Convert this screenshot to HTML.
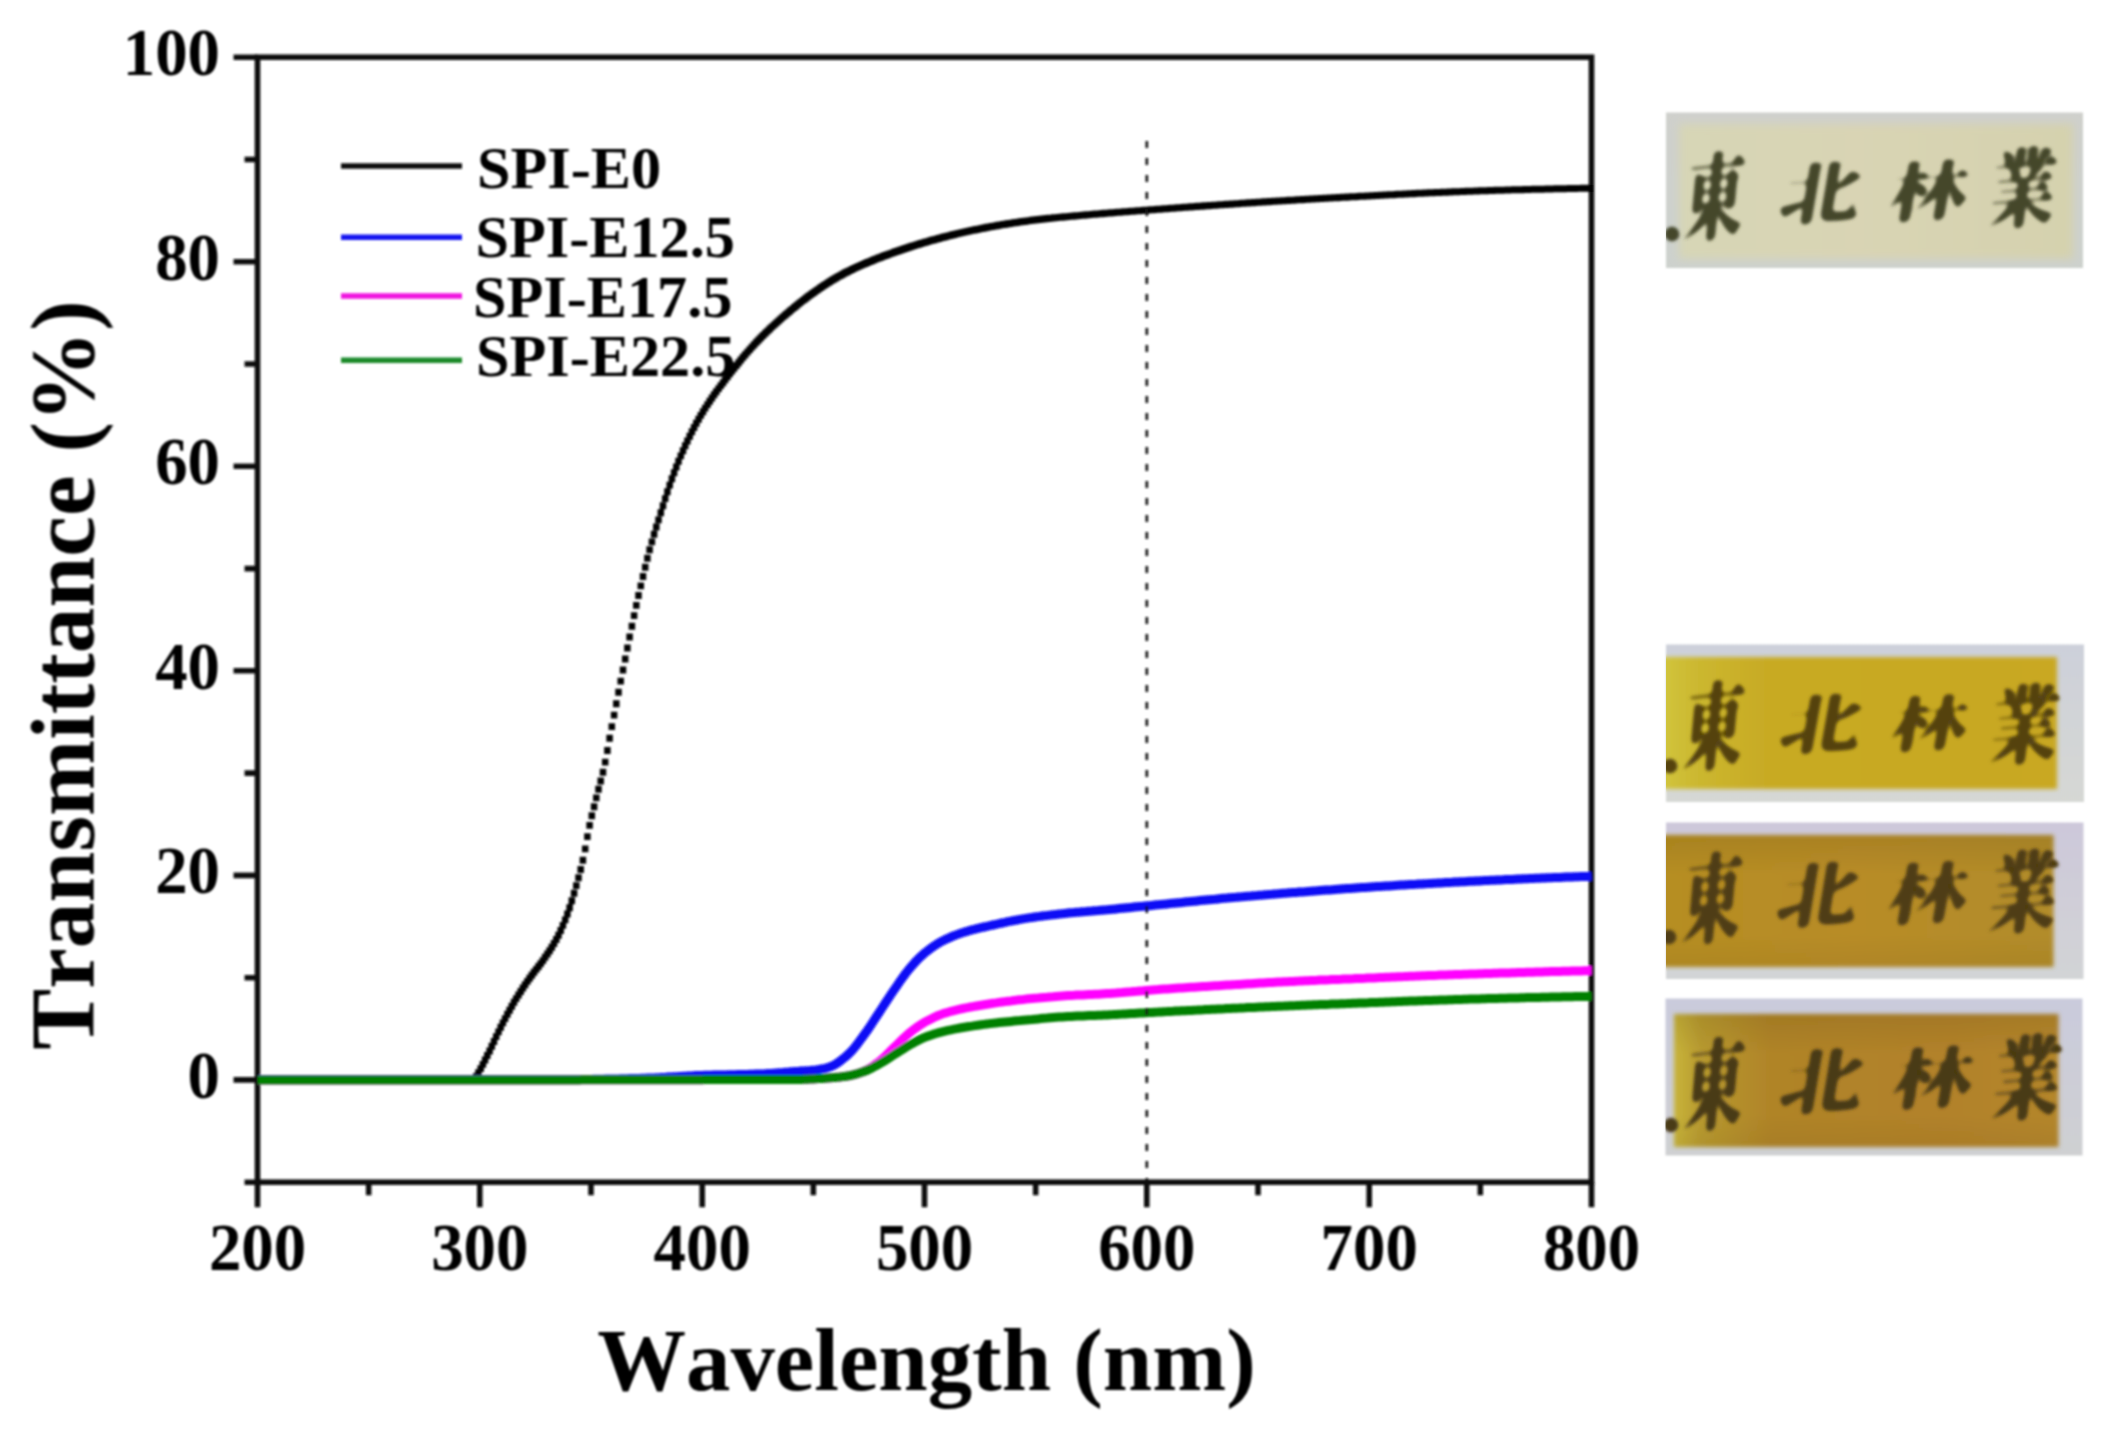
<!DOCTYPE html>
<html><head><meta charset="utf-8"><title>UV-vis transmittance</title>
<style>html,body{margin:0;padding:0;background:#fff}body{width:2102px;height:1430px;overflow:hidden}svg{display:block}</style></head>
<body>
<svg width="2102" height="1430" viewBox="0 0 2102 1430">
<defs>
<filter id="b1" x="-5%" y="-5%" width="110%" height="110%"><feGaussianBlur stdDeviation="0.9"/></filter>
<filter id="b2" x="-5%" y="-5%" width="110%" height="110%"><feGaussianBlur stdDeviation="1.3"/></filter>
<filter id="b3" x="-5%" y="-10%" width="110%" height="120%"><feGaussianBlur stdDeviation="2.2"/></filter>
<filter id="b5" x="-5%" y="-10%" width="110%" height="120%"><feGaussianBlur stdDeviation="4.5"/></filter>
<filter id="b4" x="-5%" y="-20%" width="110%" height="140%"><feGaussianBlur stdDeviation="2.6"/><feComponentTransfer><feFuncA type="linear" slope="3.2" intercept="-.75"/></feComponentTransfer><feGaussianBlur stdDeviation="1.8"/></filter>
<linearGradient id="g1" x1="0" x2="1" y1="0" y2="0"><stop offset="0" stop-color="#d7d6b6"/><stop offset=".45" stop-color="#d9d4b4"/><stop offset="1" stop-color="#d5d2ae"/></linearGradient>
<linearGradient id="g2" x1="0" x2="1" y1="0" y2="0"><stop offset="0" stop-color="#d2c840"/><stop offset=".1" stop-color="#ccb830"/><stop offset=".28" stop-color="#c8aa24"/><stop offset="1" stop-color="#c9a822"/></linearGradient>
<linearGradient id="g3" x1="0" x2="1" y1="0" y2="0"><stop offset="0" stop-color="#b68e22"/><stop offset=".5" stop-color="#b88c28"/><stop offset="1" stop-color="#b28c2a"/></linearGradient>
<linearGradient id="g4" x1="0" x2="1" y1="0" y2="0"><stop offset="0" stop-color="#c8b43a"/><stop offset=".07" stop-color="#b89a30"/><stop offset=".25" stop-color="#b08428"/><stop offset=".7" stop-color="#b2822a"/><stop offset="1" stop-color="#b4862c"/></linearGradient>
<clipPath id="cp"><rect x="257.5" y="57.2" width="1337.0" height="1125.0"/></clipPath>
<linearGradient id="vg" x1="0" x2="0" y1="0" y2="1"><stop offset="0" stop-color="#3c2c00" stop-opacity=".12"/><stop offset=".3" stop-color="#3c2c00" stop-opacity="0"/><stop offset=".75" stop-color="#3c2c00" stop-opacity="0"/><stop offset="1" stop-color="#3c2c00" stop-opacity=".07"/></linearGradient>
</defs>
<rect width="100%" height="100%" fill="#fff"/>
<g filter="url(#b1)">
<g stroke="#111" stroke-width="5.6" fill="none" stroke-linecap="butt">
<rect x="257.5" y="57.2" width="1334.0" height="1125.0"/>
<path d="M257.5 1079.9h-24M257.5 875.4h-24M257.5 670.8h-24M257.5 466.3h-24M257.5 261.7h-24M257.5 57.2h-24M257.5 1182.2h-13M257.5 977.7h-13M257.5 773.1h-13M257.5 568.6h-13M257.5 364.0h-13M257.5 159.5h-13M257.5 1182.2v25M479.8 1182.2v25M702.2 1182.2v25M924.5 1182.2v25M1146.8 1182.2v25M1369.2 1182.2v25M1591.5 1182.2v25M368.7 1182.2v13M591.0 1182.2v13M813.3 1182.2v13M1035.7 1182.2v13M1258.0 1182.2v13M1480.3 1182.2v13"/>
</g>
<g clip-path="url(#cp)" fill="none" stroke-linejoin="round">
<path d="M474.0 1079.8v.4M476.2 1076.3v.4M478.4 1072.5v.4M480.7 1068.4v.4M482.9 1064.2v.4M485.1 1059.8v.4M487.3 1055.3v.4M489.6 1050.8v.4M491.8 1046.1v.4M494.0 1041.3v.4M496.2 1036.4v.4M498.5 1031.7v.4M500.7 1027.1v.4M502.9 1022.7v.4M505.1 1018.4v.4M507.4 1014.1v.4M509.6 1010.0v.4M511.8 1006.0v.4M514.0 1002.1v.4M516.2 998.4v.4M518.5 994.8v.4M520.7 991.3v.4M522.9 987.8v.4M525.1 984.5v.4M527.4 981.2v.4M529.6 978.0v.4M531.8 975.0v.4M534.0 972.1v.4M536.3 969.2v.4M538.5 966.3v.4M540.7 963.4v.4M542.9 960.4v.4M545.1 957.1v.4M547.4 953.8v.4M549.6 950.5v.4M551.8 947.0v.4M554.0 943.3v.4M556.3 939.3v.4M558.5 935.0v.4M560.7 930.3v.4M562.9 925.2v.4M565.2 919.7v.4M567.4 913.8v.4M569.6 907.5v.4M571.8 900.5v.4M574.1 893.1v.4M576.3 885.4v.4M578.5 877.6v.4M580.7 869.3v.4M582.9 860.0v.4M585.2 848.7v.4M587.4 836.4v.4M589.6 825.2v.4M591.8 815.6v.4M594.1 806.5v.4M596.3 797.7v.4M598.5 789.1v.4M600.7 780.8v.4M603.0 772.0v.4M605.2 761.9v.4M607.4 750.3v.4M609.6 738.1v.4M611.8 726.4v.4M614.1 714.9v.4M616.3 703.5v.4M618.5 692.1v.4M620.7 680.9v.4M623.0 669.8v.4M625.2 658.8v.4M627.4 647.8v.4M629.6 636.8v.4M631.9 626.0v.4M634.1 615.4v.4M636.3 605.2v.4M638.5 595.3v.4M640.8 585.7v.4M643.0 576.3v.4M645.2 567.1v.4M647.4 558.1v.4M649.6 549.6v.4M651.9 541.7v.4M654.1 534.1v.4M656.3 526.8v.4M658.5 519.7v.4M660.8 512.6v.4M663.0 505.5v.4M665.2 498.4v.4M667.4 491.5v.4M669.7 484.9v.4M671.9 478.6v.4M674.1 472.6v.4M676.3 466.8v.4M678.5 461.1v.4M680.8 455.7v.4M683.0 450.5v.4M685.2 445.5v.4M687.4 440.8v.4M689.7 436.1v.4M691.9 431.6v.4M694.1 427.3v.4M696.3 423.1v.4M698.6 419.1v.4M700.8 415.2v.4M703.0 411.5v.4M705.2 407.9v.4M707.5 404.4v.4M709.7 401.0v.4M711.9 397.8v.4M714.1 394.6v.4M716.3 391.5v.4M718.6 388.4v.4M720.8 385.4v.4M723.0 382.5v.4M725.2 379.5v.4M727.5 376.6v.4M729.7 373.7v.4M731.9 370.9v.4M734.1 368.0v.4M736.4 365.3v.4M738.6 362.5v.4M740.8 359.8v.4M743.0 357.1v.4M745.2 354.5v.4M747.5 351.9v.4M749.7 349.4v.4M751.9 346.9v.4M754.1 344.5v.4M756.4 342.1v.4M758.6 339.8v.4M760.8 337.5v.4M763.0 335.3v.4M765.3 333.1v.4M767.5 330.9v.4M769.7 328.8v.4M771.9 326.7v.4M774.2 324.7v.4M776.4 322.7v.4M778.6 320.7v.4M780.8 318.7v.4M783.0 316.7v.4M785.3 314.8v.4M787.5 312.9v.4M789.7 311.0v.4M791.9 309.2v.4M794.2 307.3v.4M796.4 305.5v.4M798.6 303.7v.4M800.8 301.9v.4M803.1 300.2v.4M805.3 298.5v.4M807.5 296.8v.4M809.7 295.2v.4M811.9 293.6v.4M814.2 292.0v.4M816.4 290.4v.4M818.6 288.9v.4M820.8 287.3v.4M823.1 285.8v.4M825.3 284.4v.4M827.5 282.9v.4M829.7 281.5v.4M832.0 280.1v.4M834.2 278.8v.4M836.4 277.5v.4M838.6 276.2v.4M840.9 275.0v.4M843.1 273.8v.4M845.3 272.6v.4M847.5 271.5v.4M849.7 270.4v.4M852.0 269.3v.4M854.2 268.2v.4M856.4 267.2v.4M858.6 266.2v.4M860.9 265.2v.4M863.1 264.2v.4M865.3 263.3v.4M867.5 262.3v.4M869.8 261.4v.4M872.0 260.5v.4M874.2 259.6v.4M876.4 258.7v.4M878.6 257.8v.4M880.9 257.0v.4M883.1 256.1v.4M885.3 255.3v.4M887.5 254.5v.4M889.8 253.7v.4M892.0 252.9v.4M894.2 252.1v.4M896.4 251.3v.4M898.7 250.6v.4M900.9 249.8v.4M903.1 249.1v.4M905.3 248.3v.4M907.6 247.6v.4M909.8 246.8v.4M912.0 246.1v.4M914.2 245.4v.4M916.4 244.7v.4M918.7 244.0v.4M920.9 243.3v.4M923.1 242.7v.4M925.3 242.0v.4M927.6 241.4v.4M929.8 240.7v.4M932.0 240.1v.4M934.2 239.5v.4M936.5 238.9v.4M938.7 238.3v.4M940.9 237.7v.4M943.1 237.1v.4M945.3 236.5v.4M947.6 235.9v.4M949.8 235.4v.4M952.0 234.8v.4M954.2 234.3v.4M956.5 233.7v.4M958.7 233.2v.4M960.9 232.7v.4M963.1 232.2v.4M965.4 231.7v.4M967.6 231.2v.4M969.8 230.7v.4M972.0 230.2v.4M974.3 229.8v.4M976.5 229.3v.4M978.7 228.9v.4M980.9 228.4v.4M983.1 228.0v.4M985.4 227.5v.4M987.6 227.1v.4M989.8 226.7v.4M992.0 226.3v.4M994.3 225.9v.4M996.5 225.5v.4M998.7 225.1v.4M1000.9 224.7v.4M1003.2 224.3v.4M1005.4 224.0v.4M1007.6 223.6v.4M1009.8 223.3v.4M1012.0 222.9v.4M1014.3 222.6v.4M1016.5 222.3v.4M1018.7 221.9v.4M1020.9 221.6v.4M1023.2 221.3v.4M1025.4 221.0v.4M1027.6 220.7v.4M1029.8 220.4v.4M1032.1 220.1v.4M1034.3 219.8v.4M1036.5 219.5v.4M1038.7 219.3v.4M1041.0 219.0v.4M1043.2 218.8v.4M1045.4 218.5v.4M1047.6 218.3v.4M1049.8 218.1v.4M1052.1 217.9v.4M1054.3 217.6v.4M1056.5 217.4v.4M1058.7 217.2v.4M1061.0 217.0v.4M1063.2 216.8v.4M1065.4 216.6v.4M1067.6 216.4v.4M1069.9 216.2v.4M1072.1 216.0v.4M1074.3 215.8v.4M1076.5 215.6v.4M1078.7 215.4v.4M1081.0 215.2v.4M1083.2 215.0v.4M1085.4 214.8v.4M1087.6 214.6v.4M1089.9 214.4v.4M1092.1 214.2v.4M1094.3 214.0v.4M1096.5 213.8v.4M1098.8 213.7v.4M1101.0 213.5v.4M1103.2 213.3v.4M1105.4 213.1v.4M1107.7 212.9v.4M1109.9 212.8v.4M1112.1 212.6v.4M1114.3 212.4v.4M1116.5 212.2v.4M1118.8 212.1v.4M1121.0 211.9v.4M1123.2 211.7v.4M1125.4 211.6v.4M1127.7 211.4v.4M1129.9 211.2v.4M1132.1 211.1v.4M1134.3 210.9v.4M1136.6 210.7v.4M1138.8 210.6v.4M1141.0 210.4v.4M1143.2 210.2v.4M1145.4 210.1v.4M1147.7 209.9v.4M1149.9 209.7v.4M1152.1 209.6v.4M1154.3 209.4v.4M1156.6 209.2v.4M1158.8 209.1v.4M1161.0 208.9v.4M1163.2 208.7v.4M1165.5 208.6v.4M1167.7 208.4v.4M1169.9 208.2v.4M1172.1 208.1v.4M1174.4 207.9v.4M1176.6 207.7v.4M1178.8 207.6v.4M1181.0 207.4v.4M1183.2 207.2v.4M1185.5 207.1v.4M1187.7 206.9v.4M1189.9 206.8v.4M1192.1 206.6v.4M1194.4 206.4v.4M1196.6 206.3v.4M1198.8 206.1v.4M1201.0 206.0v.4M1203.3 205.8v.4M1205.5 205.6v.4M1207.7 205.5v.4M1209.9 205.3v.4M1212.1 205.2v.4M1214.4 205.0v.4M1216.6 204.9v.4M1218.8 204.7v.4M1221.0 204.6v.4M1223.3 204.4v.4M1225.5 204.3v.4M1227.7 204.1v.4M1229.9 204.0v.4M1232.2 203.8v.4M1234.4 203.7v.4M1236.6 203.5v.4M1238.8 203.4v.4M1241.1 203.2v.4M1243.3 203.1v.4M1245.5 202.9v.4M1247.7 202.8v.4M1249.9 202.6v.4M1252.2 202.5v.4M1254.4 202.3v.4M1256.6 202.2v.4M1258.8 202.1v.4M1261.1 201.9v.4M1263.3 201.8v.4M1265.5 201.6v.4M1267.7 201.5v.4M1270.0 201.3v.4M1272.2 201.2v.4M1274.4 201.1v.4M1276.6 200.9v.4M1278.8 200.8v.4M1281.1 200.7v.4M1283.3 200.5v.4M1285.5 200.4v.4M1287.7 200.3v.4M1290.0 200.1v.4M1292.2 200.0v.4M1294.4 199.9v.4M1296.6 199.7v.4M1298.9 199.6v.4M1301.1 199.5v.4M1303.3 199.3v.4M1305.5 199.2v.4M1307.8 199.1v.4M1310.0 198.9v.4M1312.2 198.8v.4M1314.4 198.7v.4M1316.6 198.6v.4M1318.9 198.4v.4M1321.1 198.3v.4M1323.3 198.2v.4M1325.5 198.1v.4M1327.8 197.9v.4M1330.0 197.8v.4M1332.2 197.7v.4M1334.4 197.6v.4M1336.7 197.5v.4M1338.9 197.3v.4M1341.1 197.2v.4M1343.3 197.1v.4M1345.5 197.0v.4M1347.8 196.8v.4M1350.0 196.7v.4M1352.2 196.6v.4M1354.4 196.5v.4M1356.7 196.4v.4M1358.9 196.2v.4M1361.1 196.1v.4M1363.3 196.0v.4M1365.6 195.9v.4M1367.8 195.8v.4M1370.0 195.7v.4M1372.2 195.5v.4M1374.5 195.4v.4M1376.7 195.3v.4M1378.9 195.2v.4M1381.1 195.1v.4M1383.3 194.9v.4M1385.6 194.8v.4M1387.8 194.7v.4M1390.0 194.6v.4M1392.2 194.5v.4M1394.5 194.4v.4M1396.7 194.2v.4M1398.9 194.1v.4M1401.1 194.0v.4M1403.4 193.9v.4M1405.6 193.8v.4M1407.8 193.7v.4M1410.0 193.6v.4M1412.2 193.5v.4M1414.5 193.3v.4M1416.7 193.2v.4M1418.9 193.1v.4M1421.1 193.0v.4M1423.4 192.9v.4M1425.6 192.8v.4M1427.8 192.7v.4M1430.0 192.6v.4M1432.3 192.5v.4M1434.5 192.4v.4M1436.7 192.3v.4M1438.9 192.3v.4M1441.2 192.2v.4M1443.4 192.1v.4M1445.6 192.0v.4M1447.8 191.9v.4M1450.0 191.8v.4M1452.3 191.7v.4M1454.5 191.6v.4M1456.7 191.5v.4M1458.9 191.4v.4M1461.2 191.4v.4M1463.4 191.3v.4M1465.6 191.2v.4M1467.8 191.1v.4M1470.1 191.0v.4M1472.3 190.9v.4M1474.5 190.9v.4M1476.7 190.8v.4M1478.9 190.7v.4M1481.2 190.6v.4M1483.4 190.5v.4M1485.6 190.5v.4M1487.8 190.4v.4M1490.1 190.3v.4M1492.3 190.3v.4M1494.5 190.2v.4M1496.7 190.1v.4M1499.0 190.1v.4M1501.2 190.0v.4M1503.4 189.9v.4M1505.6 189.9v.4M1507.9 189.8v.4M1510.1 189.7v.4M1512.3 189.7v.4M1514.5 189.6v.4M1516.7 189.6v.4M1519.0 189.5v.4M1521.2 189.5v.4M1523.4 189.4v.4M1525.6 189.3v.4M1527.9 189.3v.4M1530.1 189.2v.4M1532.3 189.2v.4M1534.5 189.1v.4M1536.8 189.1v.4M1539.0 189.0v.4M1541.2 189.0v.4M1543.4 188.9v.4M1545.6 188.9v.4M1547.9 188.8v.4M1550.1 188.8v.4M1552.3 188.7v.4M1554.5 188.7v.4M1556.8 188.6v.4M1559.0 188.6v.4M1561.2 188.5v.4M1563.4 188.5v.4M1565.7 188.4v.4M1567.9 188.4v.4M1570.1 188.3v.4M1572.3 188.3v.4M1574.6 188.3v.4M1576.8 188.2v.4M1579.0 188.2v.4M1581.2 188.2v.4M1583.4 188.1v.4M1585.7 188.1v.4M1587.9 188.1v.4M1590.1 188.0v.4" stroke="#000" stroke-width="6.5" stroke-linecap="square"/>
<path d="M258.0 1079.6 L261.0 1079.6 L264.0 1079.6 L267.0 1079.6 L270.0 1079.6 L273.0 1079.6 L276.0 1079.6 L279.0 1079.6 L282.0 1079.6 L285.0 1079.6 L288.0 1079.6 L291.0 1079.6 L294.0 1079.6 L297.0 1079.6 L300.0 1079.6 L303.0 1079.6 L306.0 1079.6 L309.0 1079.6 L312.0 1079.6 L315.0 1079.6 L318.0 1079.6 L321.0 1079.6 L324.0 1079.6 L327.0 1079.6 L330.0 1079.6 L333.0 1079.6 L336.0 1079.6 L339.0 1079.6 L342.0 1079.6 L345.0 1079.6 L348.0 1079.6 L351.0 1079.6 L354.0 1079.6 L357.0 1079.6 L360.0 1079.6 L363.0 1079.6 L366.0 1079.6 L369.0 1079.6 L372.0 1079.6 L375.0 1079.6 L378.0 1079.6 L381.0 1079.6 L384.0 1079.6 L387.0 1079.6 L390.0 1079.6 L393.0 1079.6 L396.0 1079.6 L399.0 1079.6 L402.0 1079.6 L405.0 1079.6 L408.0 1079.6 L411.0 1079.6 L414.0 1079.6 L417.0 1079.6 L420.0 1079.6 L423.0 1079.6 L426.0 1079.6 L429.0 1079.6 L432.0 1079.6 L435.0 1079.6 L438.0 1079.6 L441.0 1079.6 L444.0 1079.6 L447.0 1079.6 L450.0 1079.6 L453.0 1079.6 L456.0 1079.6 L459.0 1079.6 L462.0 1079.6 L465.0 1079.6 L468.0 1079.6 L471.0 1079.6 L474.0 1079.6 L477.0 1079.6 L480.0 1079.6 L483.0 1079.6 L486.0 1079.6 L489.0 1079.6 L492.0 1079.6 L495.0 1079.6 L498.0 1079.6 L501.0 1079.6 L504.0 1079.6 L507.0 1079.6 L510.0 1079.6 L513.0 1079.6 L516.0 1079.6 L519.0 1079.6 L522.0 1079.6 L525.0 1079.6 L528.0 1079.6 L531.0 1079.6 L534.0 1079.6 L537.0 1079.6 L540.0 1079.6 L543.0 1079.6 L546.0 1079.6 L549.0 1079.6 L552.0 1079.6 L555.0 1079.6 L558.0 1079.6 L561.0 1079.6 L564.0 1079.6 L567.0 1079.6 L570.0 1079.6 L573.0 1079.6 L576.0 1079.5 L579.0 1079.5 L582.0 1079.5 L585.0 1079.4 L588.0 1079.4 L591.0 1079.4 L594.0 1079.3 L597.0 1079.3 L600.0 1079.2 L603.0 1079.2 L606.0 1079.1 L609.0 1079.1 L612.0 1079.0 L615.0 1079.0 L618.0 1078.9 L621.0 1078.8 L624.0 1078.8 L627.0 1078.7 L630.0 1078.6 L633.0 1078.6 L636.0 1078.5 L639.0 1078.4 L642.0 1078.3 L645.0 1078.3 L648.0 1078.1 L651.0 1078.0 L654.0 1077.9 L657.0 1077.7 L660.0 1077.6 L663.0 1077.4 L666.0 1077.3 L669.0 1077.1 L672.0 1076.9 L675.0 1076.7 L678.0 1076.6 L681.0 1076.4 L684.0 1076.2 L687.0 1076.1 L690.0 1075.9 L693.0 1075.8 L696.0 1075.6 L699.0 1075.5 L702.0 1075.4 L705.0 1075.3 L708.0 1075.3 L711.0 1075.2 L714.0 1075.1 L717.0 1075.1 L720.0 1075.0 L723.0 1074.9 L726.0 1074.9 L729.0 1074.8 L732.0 1074.7 L735.0 1074.7 L738.0 1074.6 L741.0 1074.6 L744.0 1074.5 L747.0 1074.4 L750.0 1074.3 L753.0 1074.2 L756.0 1074.1 L759.0 1074.0 L762.0 1073.9 L765.0 1073.8 L768.0 1073.6 L771.0 1073.4 L774.0 1073.2 L777.0 1073.0 L780.0 1072.8 L783.0 1072.6 L786.0 1072.3 L789.0 1072.1 L792.0 1071.8 L795.0 1071.6 L798.0 1071.4 L801.0 1071.1 L804.0 1070.9 L807.0 1070.7 L810.0 1070.5 L813.0 1070.2 L816.0 1069.9 L819.0 1069.5 L822.0 1068.9 L825.0 1068.3 L828.0 1067.5 L831.0 1066.5 L834.0 1065.1 L837.0 1063.3 L840.0 1061.2 L843.0 1058.8 L846.0 1056.4 L849.0 1053.7 L852.0 1050.6 L855.0 1047.1 L858.0 1043.2 L861.0 1039.1 L864.0 1035.0 L867.0 1030.9 L870.0 1026.5 L873.0 1021.9 L876.0 1017.3 L879.0 1012.7 L882.0 1008.1 L885.0 1003.5 L888.0 999.0 L891.0 994.4 L894.0 990.0 L897.0 985.7 L900.0 981.3 L903.0 977.1 L906.0 973.0 L909.0 969.2 L912.0 965.7 L915.0 962.4 L918.0 959.2 L921.0 956.3 L924.0 953.6 L927.0 951.2 L930.0 948.9 L933.0 946.8 L936.0 944.8 L939.0 942.9 L942.0 941.2 L945.0 939.7 L948.0 938.3 L951.0 937.0 L954.0 935.7 L957.0 934.6 L960.0 933.5 L963.0 932.5 L966.0 931.6 L969.0 930.7 L972.0 929.9 L975.0 929.2 L978.0 928.4 L981.0 927.7 L984.0 927.0 L987.0 926.3 L990.0 925.7 L993.0 925.0 L996.0 924.3 L999.0 923.7 L1002.0 923.0 L1005.0 922.4 L1008.0 921.7 L1011.0 921.1 L1014.0 920.5 L1017.0 920.0 L1020.0 919.4 L1023.0 918.9 L1026.0 918.4 L1029.0 917.9 L1032.0 917.5 L1035.0 917.0 L1038.0 916.6 L1041.0 916.2 L1044.0 915.8 L1047.0 915.5 L1050.0 915.1 L1053.0 914.7 L1056.0 914.4 L1059.0 914.1 L1062.0 913.8 L1065.0 913.4 L1068.0 913.1 L1071.0 912.8 L1074.0 912.6 L1077.0 912.3 L1080.0 912.1 L1083.0 911.8 L1086.0 911.6 L1089.0 911.3 L1092.0 911.1 L1095.0 910.8 L1098.0 910.6 L1101.0 910.3 L1104.0 910.0 L1107.0 909.8 L1110.0 909.5 L1113.0 909.2 L1116.0 908.9 L1119.0 908.6 L1122.0 908.3 L1125.0 908.0 L1128.0 907.7 L1131.0 907.4 L1134.0 907.1 L1137.0 906.8 L1140.0 906.5 L1143.0 906.3 L1146.0 906.0 L1149.0 905.7 L1152.0 905.4 L1155.0 905.1 L1158.0 904.8 L1161.0 904.5 L1164.0 904.2 L1167.0 903.9 L1170.0 903.6 L1173.0 903.3 L1176.0 903.0 L1179.0 902.7 L1182.0 902.4 L1185.0 902.1 L1188.0 901.8 L1191.0 901.5 L1194.0 901.2 L1197.0 900.9 L1200.0 900.6 L1203.0 900.3 L1206.0 900.0 L1209.0 899.7 L1212.0 899.4 L1215.0 899.2 L1218.0 898.9 L1221.0 898.6 L1224.0 898.3 L1227.0 898.1 L1230.0 897.8 L1233.0 897.5 L1236.0 897.3 L1239.0 897.0 L1242.0 896.8 L1245.0 896.5 L1248.0 896.2 L1251.0 896.0 L1254.0 895.7 L1257.0 895.5 L1260.0 895.2 L1263.0 895.0 L1266.0 894.7 L1269.0 894.5 L1272.0 894.3 L1275.0 894.0 L1278.0 893.8 L1281.0 893.5 L1284.0 893.3 L1287.0 893.1 L1290.0 892.8 L1293.0 892.6 L1296.0 892.4 L1299.0 892.1 L1302.0 891.9 L1305.0 891.7 L1308.0 891.4 L1311.0 891.2 L1314.0 891.0 L1317.0 890.8 L1320.0 890.5 L1323.0 890.3 L1326.0 890.1 L1329.0 889.9 L1332.0 889.7 L1335.0 889.4 L1338.0 889.2 L1341.0 889.0 L1344.0 888.8 L1347.0 888.6 L1350.0 888.4 L1353.0 888.2 L1356.0 888.0 L1359.0 887.8 L1362.0 887.6 L1365.0 887.4 L1368.0 887.2 L1371.0 887.0 L1374.0 886.8 L1377.0 886.6 L1380.0 886.4 L1383.0 886.2 L1386.0 886.0 L1389.0 885.9 L1392.0 885.7 L1395.0 885.5 L1398.0 885.3 L1401.0 885.1 L1404.0 885.0 L1407.0 884.8 L1410.0 884.6 L1413.0 884.4 L1416.0 884.3 L1419.0 884.1 L1422.0 883.9 L1425.0 883.7 L1428.0 883.6 L1431.0 883.4 L1434.0 883.2 L1437.0 883.1 L1440.0 882.9 L1443.0 882.8 L1446.0 882.6 L1449.0 882.4 L1452.0 882.3 L1455.0 882.1 L1458.0 882.0 L1461.0 881.8 L1464.0 881.7 L1467.0 881.5 L1470.0 881.3 L1473.0 881.2 L1476.0 881.0 L1479.0 880.9 L1482.0 880.7 L1485.0 880.6 L1488.0 880.5 L1491.0 880.3 L1494.0 880.2 L1497.0 880.0 L1500.0 879.9 L1503.0 879.8 L1506.0 879.6 L1509.0 879.5 L1512.0 879.4 L1515.0 879.2 L1518.0 879.1 L1521.0 879.0 L1524.0 878.8 L1527.0 878.7 L1530.0 878.6 L1533.0 878.5 L1536.0 878.3 L1539.0 878.2 L1542.0 878.1 L1545.0 878.0 L1548.0 877.8 L1551.0 877.7 L1554.0 877.6 L1557.0 877.5 L1560.0 877.4 L1563.0 877.2 L1566.0 877.1 L1569.0 877.0 L1572.0 876.9 L1575.0 876.8 L1578.0 876.7 L1581.0 876.6 L1584.0 876.5 L1587.0 876.4 L1590.0 876.3 L1591.5 876.2" stroke="#0a0af5" stroke-width="9"/>
<path d="M258.0 1080.0 L261.0 1080.0 L264.0 1080.0 L267.0 1080.0 L270.0 1080.0 L273.0 1080.0 L276.0 1080.0 L279.0 1080.0 L282.0 1080.0 L285.0 1080.0 L288.0 1080.0 L291.0 1080.0 L294.0 1080.0 L297.0 1080.0 L300.0 1080.0 L303.0 1080.0 L306.0 1080.0 L309.0 1080.0 L312.0 1080.0 L315.0 1080.0 L318.0 1080.0 L321.0 1080.0 L324.0 1080.0 L327.0 1080.0 L330.0 1080.0 L333.0 1080.0 L336.0 1080.0 L339.0 1080.0 L342.0 1080.0 L345.0 1080.0 L348.0 1080.0 L351.0 1080.0 L354.0 1080.0 L357.0 1080.0 L360.0 1080.0 L363.0 1080.0 L366.0 1080.0 L369.0 1080.0 L372.0 1080.0 L375.0 1080.0 L378.0 1080.0 L381.0 1080.0 L384.0 1080.0 L387.0 1080.0 L390.0 1080.0 L393.0 1080.0 L396.0 1080.0 L399.0 1080.0 L402.0 1080.0 L405.0 1080.0 L408.0 1080.0 L411.0 1080.0 L414.0 1080.0 L417.0 1080.0 L420.0 1080.0 L423.0 1080.0 L426.0 1080.0 L429.0 1080.0 L432.0 1080.0 L435.0 1080.0 L438.0 1080.0 L441.0 1080.0 L444.0 1080.0 L447.0 1080.0 L450.0 1080.0 L453.0 1080.0 L456.0 1080.0 L459.0 1080.0 L462.0 1080.0 L465.0 1080.0 L468.0 1080.0 L471.0 1079.9 L474.0 1079.9 L477.0 1079.9 L480.0 1079.9 L483.0 1079.9 L486.0 1079.9 L489.0 1079.9 L492.0 1079.9 L495.0 1079.9 L498.0 1079.9 L501.0 1079.9 L504.0 1079.9 L507.0 1079.9 L510.0 1079.9 L513.0 1079.9 L516.0 1079.9 L519.0 1079.9 L522.0 1079.9 L525.0 1079.9 L528.0 1079.9 L531.0 1079.9 L534.0 1079.9 L537.0 1079.9 L540.0 1079.9 L543.0 1079.9 L546.0 1079.9 L549.0 1079.9 L552.0 1079.9 L555.0 1079.9 L558.0 1079.9 L561.0 1079.9 L564.0 1079.9 L567.0 1079.9 L570.0 1079.9 L573.0 1079.9 L576.0 1079.9 L579.0 1079.9 L582.0 1079.8 L585.0 1079.8 L588.0 1079.8 L591.0 1079.8 L594.0 1079.8 L597.0 1079.8 L600.0 1079.8 L603.0 1079.8 L606.0 1079.8 L609.0 1079.8 L612.0 1079.8 L615.0 1079.8 L618.0 1079.8 L621.0 1079.8 L624.0 1079.8 L627.0 1079.8 L630.0 1079.8 L633.0 1079.8 L636.0 1079.8 L639.0 1079.8 L642.0 1079.8 L645.0 1079.8 L648.0 1079.8 L651.0 1079.7 L654.0 1079.7 L657.0 1079.7 L660.0 1079.7 L663.0 1079.7 L666.0 1079.7 L669.0 1079.7 L672.0 1079.7 L675.0 1079.7 L678.0 1079.7 L681.0 1079.7 L684.0 1079.7 L687.0 1079.7 L690.0 1079.7 L693.0 1079.7 L696.0 1079.7 L699.0 1079.7 L702.0 1079.7 L705.0 1079.6 L708.0 1079.6 L711.0 1079.6 L714.0 1079.6 L717.0 1079.6 L720.0 1079.6 L723.0 1079.6 L726.0 1079.6 L729.0 1079.6 L732.0 1079.6 L735.0 1079.6 L738.0 1079.6 L741.0 1079.6 L744.0 1079.6 L747.0 1079.5 L750.0 1079.5 L753.0 1079.5 L756.0 1079.5 L759.0 1079.5 L762.0 1079.5 L765.0 1079.5 L768.0 1079.5 L771.0 1079.5 L774.0 1079.5 L777.0 1079.5 L780.0 1079.5 L783.0 1079.5 L786.0 1079.4 L789.0 1079.4 L792.0 1079.4 L795.0 1079.4 L798.0 1079.4 L801.0 1079.4 L804.0 1079.3 L807.0 1079.3 L810.0 1079.1 L813.0 1079.0 L816.0 1078.8 L819.0 1078.6 L822.0 1078.4 L825.0 1078.2 L828.0 1078.0 L831.0 1077.8 L834.0 1077.6 L837.0 1077.3 L840.0 1077.0 L843.0 1076.6 L846.0 1076.2 L849.0 1075.8 L852.0 1075.1 L855.0 1074.4 L858.0 1073.5 L861.0 1072.4 L864.0 1071.3 L867.0 1069.9 L870.0 1068.2 L873.0 1066.2 L876.0 1064.0 L879.0 1061.7 L882.0 1059.3 L885.0 1056.5 L888.0 1053.6 L891.0 1050.5 L894.0 1047.6 L897.0 1044.7 L900.0 1041.7 L903.0 1038.8 L906.0 1036.0 L909.0 1033.3 L912.0 1030.9 L915.0 1028.7 L918.0 1026.5 L921.0 1024.5 L924.0 1022.6 L927.0 1020.9 L930.0 1019.4 L933.0 1017.9 L936.0 1016.5 L939.0 1015.2 L942.0 1014.1 L945.0 1013.1 L948.0 1012.2 L951.0 1011.3 L954.0 1010.6 L957.0 1009.9 L960.0 1009.2 L963.0 1008.5 L966.0 1007.9 L969.0 1007.3 L972.0 1006.8 L975.0 1006.2 L978.0 1005.7 L981.0 1005.2 L984.0 1004.7 L987.0 1004.2 L990.0 1003.7 L993.0 1003.3 L996.0 1002.9 L999.0 1002.4 L1002.0 1002.0 L1005.0 1001.6 L1008.0 1001.2 L1011.0 1000.9 L1014.0 1000.5 L1017.0 1000.1 L1020.0 999.8 L1023.0 999.5 L1026.0 999.1 L1029.0 998.8 L1032.0 998.5 L1035.0 998.2 L1038.0 998.0 L1041.0 997.7 L1044.0 997.4 L1047.0 997.2 L1050.0 996.9 L1053.0 996.7 L1056.0 996.4 L1059.0 996.2 L1062.0 996.0 L1065.0 995.8 L1068.0 995.6 L1071.0 995.4 L1074.0 995.3 L1077.0 995.1 L1080.0 995.0 L1083.0 994.9 L1086.0 994.7 L1089.0 994.6 L1092.0 994.5 L1095.0 994.3 L1098.0 994.2 L1101.0 994.0 L1104.0 993.8 L1107.0 993.6 L1110.0 993.4 L1113.0 993.2 L1116.0 993.0 L1119.0 992.7 L1122.0 992.5 L1125.0 992.2 L1128.0 991.9 L1131.0 991.7 L1134.0 991.4 L1137.0 991.2 L1140.0 990.9 L1143.0 990.7 L1146.0 990.4 L1149.0 990.2 L1152.0 990.0 L1155.0 989.8 L1158.0 989.6 L1161.0 989.3 L1164.0 989.1 L1167.0 988.9 L1170.0 988.7 L1173.0 988.5 L1176.0 988.3 L1179.0 988.1 L1182.0 987.9 L1185.0 987.7 L1188.0 987.5 L1191.0 987.3 L1194.0 987.2 L1197.0 987.0 L1200.0 986.8 L1203.0 986.6 L1206.0 986.4 L1209.0 986.2 L1212.0 986.0 L1215.0 985.8 L1218.0 985.7 L1221.0 985.5 L1224.0 985.3 L1227.0 985.1 L1230.0 984.9 L1233.0 984.7 L1236.0 984.6 L1239.0 984.4 L1242.0 984.2 L1245.0 984.0 L1248.0 983.8 L1251.0 983.7 L1254.0 983.5 L1257.0 983.3 L1260.0 983.1 L1263.0 983.0 L1266.0 982.8 L1269.0 982.6 L1272.0 982.5 L1275.0 982.3 L1278.0 982.1 L1281.0 982.0 L1284.0 981.8 L1287.0 981.7 L1290.0 981.5 L1293.0 981.4 L1296.0 981.2 L1299.0 981.1 L1302.0 980.9 L1305.0 980.8 L1308.0 980.7 L1311.0 980.5 L1314.0 980.4 L1317.0 980.3 L1320.0 980.1 L1323.0 980.0 L1326.0 979.9 L1329.0 979.8 L1332.0 979.6 L1335.0 979.5 L1338.0 979.4 L1341.0 979.3 L1344.0 979.1 L1347.0 979.0 L1350.0 978.9 L1353.0 978.8 L1356.0 978.6 L1359.0 978.5 L1362.0 978.4 L1365.0 978.3 L1368.0 978.1 L1371.0 978.0 L1374.0 977.9 L1377.0 977.7 L1380.0 977.6 L1383.0 977.5 L1386.0 977.3 L1389.0 977.2 L1392.0 977.1 L1395.0 977.0 L1398.0 976.8 L1401.0 976.7 L1404.0 976.6 L1407.0 976.4 L1410.0 976.3 L1413.0 976.2 L1416.0 976.1 L1419.0 975.9 L1422.0 975.8 L1425.0 975.7 L1428.0 975.6 L1431.0 975.5 L1434.0 975.4 L1437.0 975.3 L1440.0 975.1 L1443.0 975.0 L1446.0 974.9 L1449.0 974.8 L1452.0 974.7 L1455.0 974.6 L1458.0 974.5 L1461.0 974.4 L1464.0 974.3 L1467.0 974.2 L1470.0 974.1 L1473.0 974.0 L1476.0 973.9 L1479.0 973.8 L1482.0 973.7 L1485.0 973.6 L1488.0 973.5 L1491.0 973.4 L1494.0 973.3 L1497.0 973.2 L1500.0 973.1 L1503.0 973.0 L1506.0 973.0 L1509.0 972.9 L1512.0 972.8 L1515.0 972.7 L1518.0 972.6 L1521.0 972.5 L1524.0 972.4 L1527.0 972.3 L1530.0 972.2 L1533.0 972.2 L1536.0 972.1 L1539.0 972.0 L1542.0 971.9 L1545.0 971.8 L1548.0 971.7 L1551.0 971.6 L1554.0 971.6 L1557.0 971.5 L1560.0 971.4 L1563.0 971.3 L1566.0 971.2 L1569.0 971.2 L1572.0 971.1 L1575.0 971.0 L1578.0 970.9 L1581.0 970.9 L1584.0 970.8 L1587.0 970.7 L1590.0 970.6 L1591.5 970.6" stroke="#ff00ff" stroke-width="9"/>
<path d="M258.0 1080.0 L261.0 1080.0 L264.0 1080.0 L267.0 1080.0 L270.0 1080.0 L273.0 1080.0 L276.0 1080.0 L279.0 1080.0 L282.0 1080.0 L285.0 1080.0 L288.0 1080.0 L291.0 1080.0 L294.0 1080.0 L297.0 1080.0 L300.0 1080.0 L303.0 1080.0 L306.0 1080.0 L309.0 1080.0 L312.0 1080.0 L315.0 1080.0 L318.0 1080.0 L321.0 1080.0 L324.0 1080.0 L327.0 1080.0 L330.0 1080.0 L333.0 1080.0 L336.0 1080.0 L339.0 1080.0 L342.0 1080.0 L345.0 1080.0 L348.0 1080.0 L351.0 1080.0 L354.0 1080.0 L357.0 1080.0 L360.0 1080.0 L363.0 1080.0 L366.0 1080.0 L369.0 1080.0 L372.0 1080.0 L375.0 1080.0 L378.0 1080.0 L381.0 1080.0 L384.0 1080.0 L387.0 1080.0 L390.0 1080.0 L393.0 1080.0 L396.0 1080.0 L399.0 1080.0 L402.0 1080.0 L405.0 1080.0 L408.0 1080.0 L411.0 1080.0 L414.0 1080.0 L417.0 1080.0 L420.0 1080.0 L423.0 1080.0 L426.0 1080.0 L429.0 1080.0 L432.0 1080.0 L435.0 1080.0 L438.0 1080.0 L441.0 1080.0 L444.0 1080.0 L447.0 1080.0 L450.0 1080.0 L453.0 1080.0 L456.0 1080.0 L459.0 1080.0 L462.0 1080.0 L465.0 1080.0 L468.0 1080.0 L471.0 1079.9 L474.0 1079.9 L477.0 1079.9 L480.0 1079.9 L483.0 1079.9 L486.0 1079.9 L489.0 1079.9 L492.0 1079.9 L495.0 1079.9 L498.0 1079.9 L501.0 1079.9 L504.0 1079.9 L507.0 1079.9 L510.0 1079.9 L513.0 1079.9 L516.0 1079.9 L519.0 1079.9 L522.0 1079.9 L525.0 1079.9 L528.0 1079.9 L531.0 1079.9 L534.0 1079.9 L537.0 1079.9 L540.0 1079.9 L543.0 1079.9 L546.0 1079.9 L549.0 1079.9 L552.0 1079.9 L555.0 1079.9 L558.0 1079.9 L561.0 1079.9 L564.0 1079.9 L567.0 1079.9 L570.0 1079.9 L573.0 1079.9 L576.0 1079.9 L579.0 1079.9 L582.0 1079.8 L585.0 1079.8 L588.0 1079.8 L591.0 1079.8 L594.0 1079.8 L597.0 1079.8 L600.0 1079.8 L603.0 1079.8 L606.0 1079.8 L609.0 1079.8 L612.0 1079.8 L615.0 1079.8 L618.0 1079.8 L621.0 1079.8 L624.0 1079.8 L627.0 1079.8 L630.0 1079.8 L633.0 1079.8 L636.0 1079.8 L639.0 1079.8 L642.0 1079.8 L645.0 1079.8 L648.0 1079.8 L651.0 1079.7 L654.0 1079.7 L657.0 1079.7 L660.0 1079.7 L663.0 1079.7 L666.0 1079.7 L669.0 1079.7 L672.0 1079.7 L675.0 1079.7 L678.0 1079.7 L681.0 1079.7 L684.0 1079.7 L687.0 1079.7 L690.0 1079.7 L693.0 1079.7 L696.0 1079.7 L699.0 1079.7 L702.0 1079.7 L705.0 1079.6 L708.0 1079.6 L711.0 1079.6 L714.0 1079.6 L717.0 1079.6 L720.0 1079.6 L723.0 1079.6 L726.0 1079.6 L729.0 1079.6 L732.0 1079.6 L735.0 1079.6 L738.0 1079.6 L741.0 1079.6 L744.0 1079.6 L747.0 1079.5 L750.0 1079.5 L753.0 1079.5 L756.0 1079.5 L759.0 1079.5 L762.0 1079.5 L765.0 1079.5 L768.0 1079.5 L771.0 1079.5 L774.0 1079.5 L777.0 1079.5 L780.0 1079.5 L783.0 1079.5 L786.0 1079.4 L789.0 1079.4 L792.0 1079.4 L795.0 1079.4 L798.0 1079.4 L801.0 1079.4 L804.0 1079.3 L807.0 1079.3 L810.0 1079.1 L813.0 1079.0 L816.0 1078.8 L819.0 1078.6 L822.0 1078.4 L825.0 1078.2 L828.0 1078.0 L831.0 1077.8 L834.0 1077.6 L837.0 1077.3 L840.0 1077.0 L843.0 1076.6 L846.0 1076.2 L849.0 1075.8 L852.0 1075.1 L855.0 1074.4 L858.0 1073.5 L861.0 1072.5 L864.0 1071.5 L867.0 1070.3 L870.0 1068.9 L873.0 1067.4 L876.0 1065.8 L879.0 1064.1 L882.0 1062.4 L885.0 1060.6 L888.0 1058.7 L891.0 1056.7 L894.0 1054.8 L897.0 1052.9 L900.0 1051.0 L903.0 1049.1 L906.0 1047.2 L909.0 1045.4 L912.0 1043.7 L915.0 1042.1 L918.0 1040.5 L921.0 1039.0 L924.0 1037.6 L927.0 1036.5 L930.0 1035.4 L933.0 1034.4 L936.0 1033.5 L939.0 1032.6 L942.0 1031.8 L945.0 1031.1 L948.0 1030.4 L951.0 1029.8 L954.0 1029.2 L957.0 1028.6 L960.0 1028.0 L963.0 1027.5 L966.0 1027.0 L969.0 1026.5 L972.0 1026.1 L975.0 1025.6 L978.0 1025.2 L981.0 1024.8 L984.0 1024.4 L987.0 1024.0 L990.0 1023.6 L993.0 1023.3 L996.0 1022.9 L999.0 1022.6 L1002.0 1022.3 L1005.0 1022.0 L1008.0 1021.7 L1011.0 1021.4 L1014.0 1021.1 L1017.0 1020.8 L1020.0 1020.6 L1023.0 1020.3 L1026.0 1020.0 L1029.0 1019.7 L1032.0 1019.5 L1035.0 1019.2 L1038.0 1018.9 L1041.0 1018.6 L1044.0 1018.3 L1047.0 1018.1 L1050.0 1017.8 L1053.0 1017.5 L1056.0 1017.3 L1059.0 1017.1 L1062.0 1016.9 L1065.0 1016.7 L1068.0 1016.5 L1071.0 1016.4 L1074.0 1016.2 L1077.0 1016.1 L1080.0 1016.0 L1083.0 1015.9 L1086.0 1015.7 L1089.0 1015.6 L1092.0 1015.5 L1095.0 1015.4 L1098.0 1015.3 L1101.0 1015.2 L1104.0 1015.0 L1107.0 1014.9 L1110.0 1014.7 L1113.0 1014.6 L1116.0 1014.4 L1119.0 1014.2 L1122.0 1014.1 L1125.0 1013.9 L1128.0 1013.7 L1131.0 1013.5 L1134.0 1013.4 L1137.0 1013.2 L1140.0 1013.0 L1143.0 1012.9 L1146.0 1012.7 L1149.0 1012.5 L1152.0 1012.4 L1155.0 1012.2 L1158.0 1012.1 L1161.0 1011.9 L1164.0 1011.7 L1167.0 1011.6 L1170.0 1011.4 L1173.0 1011.3 L1176.0 1011.1 L1179.0 1011.0 L1182.0 1010.8 L1185.0 1010.7 L1188.0 1010.5 L1191.0 1010.4 L1194.0 1010.2 L1197.0 1010.1 L1200.0 1009.9 L1203.0 1009.8 L1206.0 1009.6 L1209.0 1009.5 L1212.0 1009.3 L1215.0 1009.2 L1218.0 1009.0 L1221.0 1008.9 L1224.0 1008.8 L1227.0 1008.6 L1230.0 1008.5 L1233.0 1008.3 L1236.0 1008.2 L1239.0 1008.1 L1242.0 1007.9 L1245.0 1007.8 L1248.0 1007.6 L1251.0 1007.5 L1254.0 1007.4 L1257.0 1007.2 L1260.0 1007.1 L1263.0 1007.0 L1266.0 1006.8 L1269.0 1006.7 L1272.0 1006.6 L1275.0 1006.5 L1278.0 1006.3 L1281.0 1006.2 L1284.0 1006.1 L1287.0 1005.9 L1290.0 1005.8 L1293.0 1005.7 L1296.0 1005.6 L1299.0 1005.4 L1302.0 1005.3 L1305.0 1005.2 L1308.0 1005.1 L1311.0 1005.0 L1314.0 1004.8 L1317.0 1004.7 L1320.0 1004.6 L1323.0 1004.5 L1326.0 1004.4 L1329.0 1004.3 L1332.0 1004.1 L1335.0 1004.0 L1338.0 1003.9 L1341.0 1003.8 L1344.0 1003.7 L1347.0 1003.6 L1350.0 1003.4 L1353.0 1003.3 L1356.0 1003.2 L1359.0 1003.1 L1362.0 1003.0 L1365.0 1002.9 L1368.0 1002.8 L1371.0 1002.6 L1374.0 1002.5 L1377.0 1002.4 L1380.0 1002.3 L1383.0 1002.2 L1386.0 1002.0 L1389.0 1001.9 L1392.0 1001.8 L1395.0 1001.7 L1398.0 1001.6 L1401.0 1001.5 L1404.0 1001.3 L1407.0 1001.2 L1410.0 1001.1 L1413.0 1001.0 L1416.0 1000.9 L1419.0 1000.8 L1422.0 1000.7 L1425.0 1000.6 L1428.0 1000.5 L1431.0 1000.4 L1434.0 1000.3 L1437.0 1000.2 L1440.0 1000.1 L1443.0 1000.0 L1446.0 999.9 L1449.0 999.8 L1452.0 999.7 L1455.0 999.6 L1458.0 999.5 L1461.0 999.4 L1464.0 999.3 L1467.0 999.2 L1470.0 999.1 L1473.0 999.1 L1476.0 999.0 L1479.0 998.9 L1482.0 998.8 L1485.0 998.7 L1488.0 998.6 L1491.0 998.5 L1494.0 998.5 L1497.0 998.4 L1500.0 998.3 L1503.0 998.2 L1506.0 998.2 L1509.0 998.1 L1512.0 998.0 L1515.0 997.9 L1518.0 997.9 L1521.0 997.8 L1524.0 997.7 L1527.0 997.6 L1530.0 997.6 L1533.0 997.5 L1536.0 997.4 L1539.0 997.4 L1542.0 997.3 L1545.0 997.2 L1548.0 997.2 L1551.0 997.1 L1554.0 997.0 L1557.0 997.0 L1560.0 996.9 L1563.0 996.8 L1566.0 996.8 L1569.0 996.7 L1572.0 996.7 L1575.0 996.6 L1578.0 996.5 L1581.0 996.5 L1584.0 996.4 L1587.0 996.4 L1590.0 996.3 L1591.5 996.3" stroke="#008000" stroke-width="9"/>
</g>
<path d="M1146.8 141V1182.2" stroke="#111" stroke-width="2.6" stroke-dasharray="7 10" fill="none"/>
<path d="M341 166H462" stroke="#111" stroke-width="5.6" fill="none"/>
<path d="M341 237.2H462" stroke="#1414f0" stroke-width="5.6" fill="none"/>
<path d="M341 296H462" stroke="#f012e0" stroke-width="5.6" fill="none"/>
<path d="M341 360.3H462" stroke="#1a8a2a" stroke-width="5.6" fill="none"/>
<g font-family="'Liberation Serif', serif" font-weight="bold" fill="#000" style="font-kerning:none">
<text transform="translate(477 188) scale(1.03 1)" font-size="58.5">SPI-E0</text>
<text transform="translate(475.5 256.5) scale(1.03 1)" font-size="58.5">SPI-E12.5</text>
<text transform="translate(473 317) scale(1.03 1)" font-size="58.5">SPI-E17.5</text>
<text transform="translate(476 376) scale(1.03 1)" font-size="58.5">SPI-E22.5</text>
<text transform="translate(220 1097.9) scale(.96 1)" font-size="67.5" text-anchor="end">0</text>
<text transform="translate(220 893.4) scale(.96 1)" font-size="67.5" text-anchor="end">20</text>
<text transform="translate(220 688.8) scale(.96 1)" font-size="67.5" text-anchor="end">40</text>
<text transform="translate(220 484.3) scale(.96 1)" font-size="67.5" text-anchor="end">60</text>
<text transform="translate(220 279.7) scale(.96 1)" font-size="67.5" text-anchor="end">80</text>
<text transform="translate(220 75.2) scale(.96 1)" font-size="67.5" text-anchor="end">100</text>
<text transform="translate(257.5 1270) scale(.96 1)" font-size="67.5" text-anchor="middle">200</text>
<text transform="translate(479.8 1270) scale(.96 1)" font-size="67.5" text-anchor="middle">300</text>
<text transform="translate(702.2 1270) scale(.96 1)" font-size="67.5" text-anchor="middle">400</text>
<text transform="translate(924.5 1270) scale(.96 1)" font-size="67.5" text-anchor="middle">500</text>
<text transform="translate(1146.8 1270) scale(.96 1)" font-size="67.5" text-anchor="middle">600</text>
<text transform="translate(1369.2 1270) scale(.96 1)" font-size="67.5" text-anchor="middle">700</text>
<text transform="translate(1591.5 1270) scale(.96 1)" font-size="67.5" text-anchor="middle">800</text>
<text x="926.5" y="1390" font-size="88.8" text-anchor="middle">Wavelength (nm)</text>
<text transform="translate(93.6 675) rotate(-90)" font-size="91.5" text-anchor="middle">Transmittance (%)</text>
</g>
</g>
<linearGradient id="o0" x1="0" x2="0" y1="0" y2="1"><stop offset="0" stop-color="#cfd0cc"/><stop offset="1" stop-color="#cdd1cd"/></linearGradient>
<clipPath id="pc0"><rect x="1666" y="112.5" width="417" height="155.5"/></clipPath>
<linearGradient id="o1" x1="0" x2="0" y1="0" y2="1"><stop offset="0" stop-color="#cdd0da"/><stop offset="1" stop-color="#d6d8d4"/></linearGradient>
<clipPath id="pc1"><rect x="1666" y="644.5" width="418" height="157.5"/></clipPath>
<linearGradient id="o2" x1="0" x2="0" y1="0" y2="1"><stop offset="0" stop-color="#cdc8da"/><stop offset="1" stop-color="#d2d4d6"/></linearGradient>
<clipPath id="pc2"><rect x="1666" y="822.5" width="417.5" height="156.5"/></clipPath>
<linearGradient id="o3" x1="0" x2="0" y1="0" y2="1"><stop offset="0" stop-color="#cacbdc"/><stop offset="1" stop-color="#cfd0d2"/></linearGradient>
<clipPath id="pc3"><rect x="1665.5" y="998.5" width="417.0" height="157.0"/></clipPath>
<g filter="url(#b2)">
<rect x="1666" y="112.5" width="417" height="155.5" fill="url(#o0)"/>
<rect x="1666" y="644.5" width="418" height="157.5" fill="url(#o1)"/>
<rect x="1666" y="822.5" width="417.5" height="156.5" fill="url(#o2)"/>
<rect x="1665.5" y="998.5" width="417.0" height="157.0" fill="url(#o3)"/>
</g>
<g clip-path="url(#pc0)">
<g filter="url(#b5)"><rect x="1679" y="124" width="394" height="135" fill="url(#g1)"/></g>
<g filter="url(#b4)" font-family="'Liberation Serif', 'Noto Serif CJK SC', serif" font-weight="700" font-size="100" fill="#45472a">
<text transform="translate(1679.9 235.8) scale(0.618 0.959) skewX(-12) rotate(-4)">東</text>
<text transform="translate(1775.8 219.9) scale(0.813 0.676) skewX(-12) rotate(-4)">北</text>
<text transform="translate(1884.0 217.5) scale(0.801 0.646) skewX(-12) rotate(-4)">林</text>
<text transform="translate(1984.2 223.3) scale(0.692 0.867) skewX(-12) rotate(-4)">業</text>
<circle cx="1672" cy="234" r="7"/>
</g></g>
<g clip-path="url(#pc1)">
<g filter="url(#b3)"><rect x="1655" y="657" width="402" height="132" fill="url(#g2)"/></g>
<g filter="url(#b4)" font-family="'Liberation Serif', 'Noto Serif CJK SC', serif" font-weight="700" font-size="100" fill="#54420e">
<text transform="translate(1678.8 765.8) scale(0.629 0.970) skewX(-12) rotate(-4)">東</text>
<text transform="translate(1775.8 750.1) scale(0.823 0.652) skewX(-12) rotate(-4)">北</text>
<text transform="translate(1885.6 747.7) scale(0.786 0.596) skewX(-12) rotate(-4)">林</text>
<text transform="translate(1984.1 759.8) scale(0.725 0.865) skewX(-12) rotate(-4)">業</text>
<circle cx="1670" cy="766" r="7"/>
</g></g>
<g clip-path="url(#pc2)">
<g filter="url(#b3)"><rect x="1655" y="835" width="398.5" height="132" fill="url(#g3)"/><rect x="1655" y="835" width="398.5" height="132" fill="url(#vg)"/></g>
<g filter="url(#b4)" font-family="'Liberation Serif', 'Noto Serif CJK SC', serif" font-weight="700" font-size="100" fill="#503e12">
<text transform="translate(1677.7 939.0) scale(0.618 0.994) skewX(-12) rotate(-4)">東</text>
<text transform="translate(1772.5 923.2) scale(0.824 0.713) skewX(-12) rotate(-4)">北</text>
<text transform="translate(1881.9 920.6) scale(0.821 0.665) skewX(-12) rotate(-4)">林</text>
<text transform="translate(1983.1 928.6) scale(0.724 0.899) skewX(-12) rotate(-4)">業</text>
<circle cx="1669" cy="937" r="7"/>
</g></g>
<g clip-path="url(#pc3)">
<g filter="url(#b3)"><rect x="1674" y="1014" width="384.5" height="133" fill="url(#g4)"/><rect x="1674" y="1014" width="384.5" height="133" fill="url(#vg)"/></g>
<g filter="url(#b4)" font-family="'Liberation Serif', 'Noto Serif CJK SC', serif" font-weight="700" font-size="100" fill="#4a3a12">
<text transform="translate(1679.9 1125.6) scale(0.618 1.006) skewX(-12) rotate(-4)">東</text>
<text transform="translate(1775.6 1109.7) scale(0.843 0.714) skewX(-12) rotate(-4)">北</text>
<text transform="translate(1886.4 1105.1) scale(0.828 0.664) skewX(-12) rotate(-4)">林</text>
<text transform="translate(1986.6 1115.2) scale(0.721 0.924) skewX(-12) rotate(-4)">業</text>
<circle cx="1671" cy="1125" r="7"/>
</g></g>
</svg>
</body></html>
